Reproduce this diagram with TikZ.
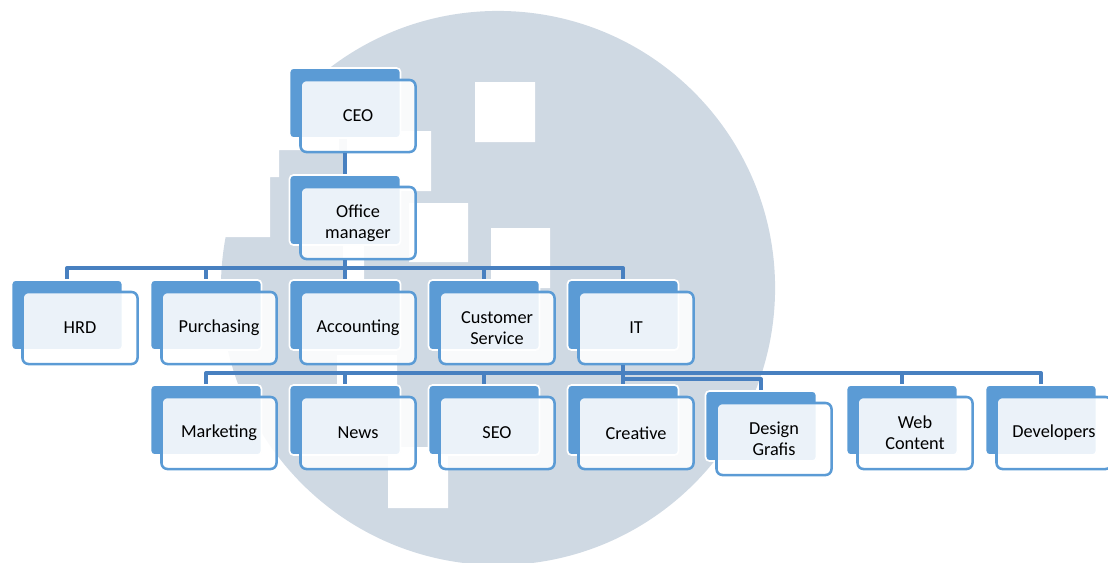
\documentclass[tikz,border=0pt]{standalone}
\usepackage{fontspec}
\setmainfont{Carlito}
\definecolor{disc}{RGB}{207,217,227}
\definecolor{tabblue}{RGB}{91,155,213}
\definecolor{linkblue}{RGB}{72,128,192}

\begin{document}
\begin{tikzpicture}[x=0.025cm,y=-0.025cm,line join=round,
	back/.style={fill=tabblue,draw=white,line width=1.2pt,rounded corners=0.1cm,minimum width=2.775cm,minimum height=1.75cm,inner sep=0pt},
	unit/.style={fill=white,fill opacity=0.88,text opacity=1,draw=tabblue,line width=1.8pt,rounded corners=0.15cm,minimum width=2.875cm,minimum height=1.8cm,align=center,inner sep=2pt,font=\fontsize{13}{15}\selectfont},
	link/.style={draw=linkblue,line width=2.4pt}]
	\useasboundingbox (0,0) rectangle (1108,562);
	% backdrop
	\fill[disc] (498,288) circle[radius=6.925cm];
	\fill[white] (475,82) rectangle (535,142) (219,117) rectangle (279,177)
		(279,90) rectangle (339,150) (210,177) rectangle (270,237)
		(347,131) rectangle (431,191) (409,203) rectangle (468,262)
		(491,228) rectangle (550,288) (343,237) rectangle (364,297)
		(337,355) rectangle (397,450) (388,447) rectangle (448,508);
	% top
	\node[back] (ceo0) at (345,103) {};
	\node[unit] (ceo) at ([shift={(13,13)}]ceo0) {CEO};
	\node[back] (om0) at (345,210) {};
	\node[unit] (om) at ([shift={(13,13)}]om0) {Office\\manager};
	% departments
	\node[back] (hrd0) at (67,315) {};
	\node[unit] (hrd) at ([shift={(13,13)}]hrd0) {HRD};
	\node[back] (pur0) at (206,315) {};
	\node[unit] (pur) at ([shift={(13,13)}]pur0) {Purchasing};
	\node[back] (acc0) at (345,315) {};
	\node[unit] (acc) at ([shift={(13,13)}]acc0) {Accounting};
	\node[back] (cs0) at (484,315) {};
	\node[unit] (cs) at ([shift={(13,13)}]cs0) {Customer\\Service};
	\node[back] (it0) at (623,315) {};
	\node[unit] (it) at ([shift={(13,13)}]it0) {IT};
	% IT teams
	\node[back] (mkt0) at (206,420) {};
	\node[unit] (mkt) at ([shift={(13,13)}]mkt0) {Marketing};
	\node[back] (news0) at (345,420) {};
	\node[unit] (news) at ([shift={(13,13)}]news0) {News};
	\node[back] (seo0) at (484,420) {};
	\node[unit] (seo) at ([shift={(13,13)}]seo0) {SEO};
	\node[back] (cre0) at (623,420) {};
	\node[unit] (cre) at ([shift={(13,13)}]cre0) {Creative};
	\node[back] (dsg0) at (761,426) {};
	\node[unit] (dsg) at ([shift={(13,13)}]dsg0) {Design\\Grafis};
	\node[back] (web0) at (902,420) {};
	\node[unit] (web) at ([shift={(13,13)}]web0) {Web\\Content};
	\node[back] (dev0) at (1041,420) {};
	\node[unit] (dev) at ([shift={(13,13)}]dev0) {Developers};
	% connectors
	\coordinate (bus1) at (345,268);
	\coordinate (bus2) at (623,373);
	\coordinate (bus3) at (623,379);
	\draw[link] (ceo0 |- ceo.south) -- (om0.north);
	\draw[link] (om0 |- om.south) -- (bus1);
	\draw[link] (hrd0.north) |- (bus1 -| it0) -- (it0.north);
	\foreach \n in {pur,acc,cs} \draw[link] (bus1 -| \n0) -- (\n0.north);
	\draw[link] (it0 |- it.south) -- (cre0.north);
	\draw[link] (mkt0.north) |- (bus2 -| dev0) -- (dev0.north);
	\foreach \n in {news,seo,web} \draw[link] (bus2 -| \n0) -- (\n0.north);
	\draw[link] (bus3) -| (dsg0.north);
\end{tikzpicture}
\end{document}
